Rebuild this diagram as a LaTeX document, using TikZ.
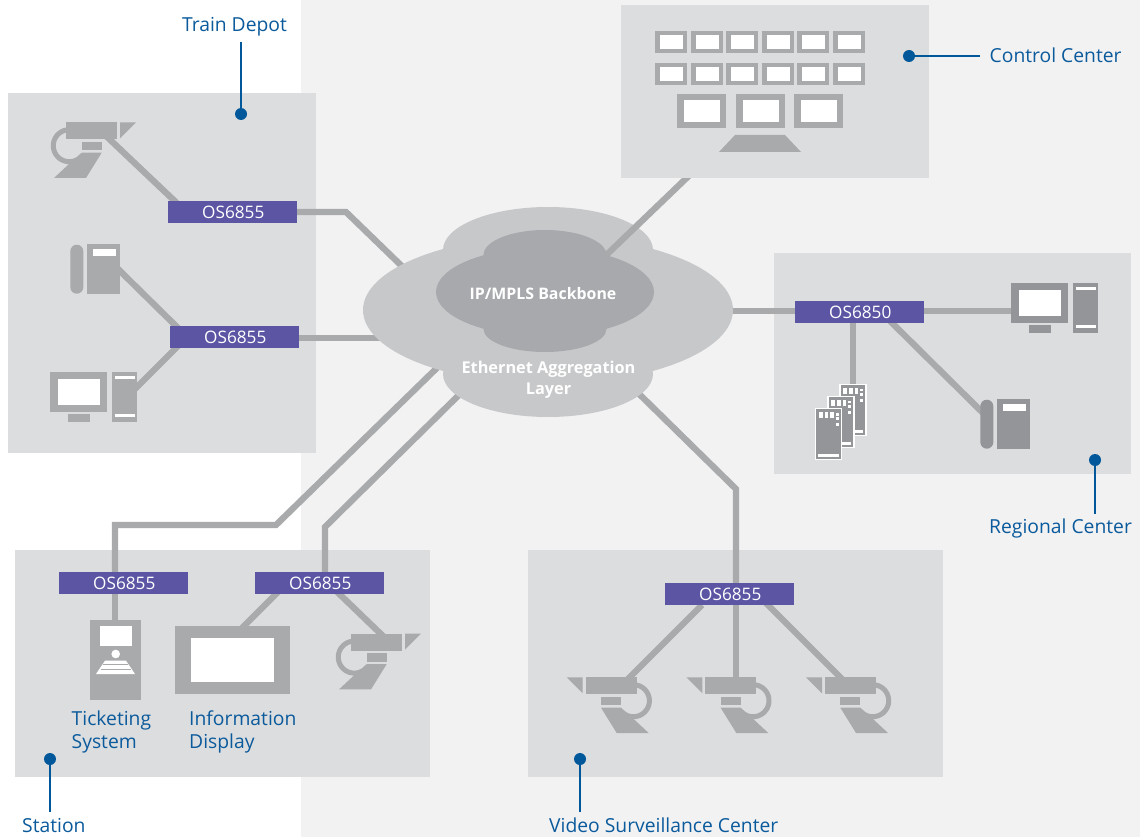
\documentclass[tikz,border=0pt]{standalone}
\usepackage{fontspec}
\setmainfont{Open Sans}
\usetikzlibrary{shapes.geometric}
\pgfdeclarelayer{back}\pgfdeclarelayer{wiresa}\pgfdeclarelayer{outer}\pgfdeclarelayer{wiresb}
\pgfsetlayers{back,wiresa,outer,wiresb,main}
\definecolor{pagegrey}{HTML}{F2F2F3}
\definecolor{panelgrey}{HTML}{DCDDDF}
\definecolor{wiregrey}{HTML}{A9AAAC}
\definecolor{darkicon}{HTML}{939598}
\definecolor{outercloud}{HTML}{C7C8CA}
\definecolor{innercloud}{HTML}{A7A9AC}
\definecolor{switchblue}{HTML}{5B55A4}
\definecolor{tagblue}{HTML}{00589A}
\definecolor{texblue}{HTML}{0A5A9C}
\tikzset{
  panel/.style={fill=panelgrey,draw=none},
  wire/.style={draw=wiregrey,line width=6.3pt,line join=miter},
  switchbox/.style={fill=switchblue,text=white,minimum width=129pt,minimum height=22pt,inner sep=0pt,font=\fontsize{17.2}{18}\selectfont,text depth=0pt,text height=12.5pt},
  cloudpart/.style={ellipse,draw=none,inner sep=0pt},
  tagline/.style={draw=tagblue,line width=2.8pt},
  tagdot/.style={circle,fill=tagblue,minimum size=12pt,inner sep=0pt},
  tagtext/.style={text=texblue,inner sep=0pt,font=\fontsize{19.3}{23.5}\selectfont},
  cloudtext/.style={text=white,inner sep=0pt,align=center,font=\fontsize{16.3}{21}\selectfont\bfseries},
}
\newcommand{\camicon}[3]{%
  \begin{scope}[shift={(#1,#2)},xscale=#3]
    \draw[wiregrey,line width=5pt] plot[domain=60:290,samples=40] ({3.3+16*cos(\x)},{23.4+16*sin(\x)});
    \fill[wiregrey] (0,0) rectangle (51,17);
    \fill[wiregrey] (54,0) -- (70,0) -- (54,16) -- cycle;
    \fill[wiregrey] (15.7,19.4) rectangle (35.7,28);
    \fill[wiregrey] (15.7,30.4) -- (35.7,30.4) -- (20,55.7) -- (-12,55.7) -- (7.3,37.7) -- cycle;
  \end{scope}}
\newcommand{\phoneicon}[3]{%
  \begin{scope}[shift={(#1,#2)}]
    \fill[#3,rounded corners=6.5pt] (0,0.7) rectangle (13,49.7);
    \fill[#3] (16.7,0) rectangle (49.7,49.7);
    \fill[white] (22.7,5) rectangle (45.7,12);
  \end{scope}}
\newcommand{\pcicon}[3]{%
  \begin{scope}[shift={(#1,#2)}]
    \fill[#3] (0,0) rectangle (57,40);
    \fill[white] (8,7) rectangle (50,33);
    \fill[#3] (18,42) rectangle (40,50);
    \fill[#3] (62,0) rectangle (87,50);
    \fill[white] (65,4) rectangle (85,7);
    \fill[white] (65,42) rectangle (85,45);
  \end{scope}}
\newcommand{\servericon}[2]{%
  \begin{scope}[shift={(#1,#2)}]
    \filldraw[fill=darkicon,draw=white,line width=1.2pt] (0,0) rectangle (26,51);
    \fill[white] (3.3,3.7) rectangle (7,9.7);
    \fill[white] (9.3,3.7) rectangle (12.7,9.7);
    \fill[white] (14.7,3.7) rectangle (18,9.7);
    \fill[white] (20,4.3) rectangle (23,7);
    \fill[white] (20,8.7) rectangle (23,11.7);
    \fill[white] (20,14.7) rectangle (23,17.7);
    \fill[white] (2.7,45.7) rectangle (23,48.7);
  \end{scope}}
\newcommand{\smallmon}[2]{%
  \fill[wiregrey] (#1,#2) rectangle ++(32,22);
  \fill[white] (#1+4.7,#2+4) rectangle ++(23,14);}
\newcommand{\bigmon}[2]{%
  \fill[wiregrey] (#1,#2) rectangle ++(49,34);
  \fill[white] (#1+7,#2+6) rectangle ++(36,22);}
\begin{document}
\begin{tikzpicture}[x=1pt,y=-1pt]
\useasboundingbox (0,0) rectangle (1140,837);
\begin{pgfonlayer}{back}
  \fill[white] (0,0) rectangle (1140,837);
  \fill[pagegrey] (301,0) rectangle (1140,837);
  \fill[panel] (8,93) rectangle (316,453);
  \fill[panel] (774,253) rectangle (1131,474);
  \fill[panel] (15,550) rectangle (430,777);
  \fill[panel] (528,550) rectangle (943,777);
\end{pgfonlayer}
% control centre panel sits over its wire
\fill[panel] (621,5) rectangle (929,178);

% clouds
\begin{pgfonlayer}{outer}
  \node[cloudpart,fill=outercloud,minimum width=370pt,minimum height=148pt] (outerMain) at (548,310) {};
  \node[cloudpart,fill=outercloud,minimum width=210pt,minimum height=86pt] (outerTop) at (548,250) {};
  \node[cloudpart,fill=outercloud,minimum width=210pt,minimum height=86pt] (outerBot) at (548,374) {};
\end{pgfonlayer}
\node[cloudpart,fill=innercloud,minimum width=218pt,minimum height=89pt] (innerMain) at (545,292) {};
\node[cloudpart,fill=innercloud,minimum width=123pt,minimum height=50pt] (innerTop) at (545,255) {};
\node[cloudpart,fill=innercloud,minimum width=123pt,minimum height=46pt] (innerBot) at (545,329) {};
\node[cloudtext,font=\fontsize{15.9}{21}\selectfont\bfseries] (backboneText) at (543,294) {IP/MPLS Backbone};
\node[cloudtext] (ethText) at (548.5,380) {Ethernet Aggregation\\Layer};

% switches
\node[switchbox] (swA) at (232.5,212) {\hspace{1.5pt}OS6855};
\node[switchbox] (swB) at (234.5,337) {\hspace{1.5pt}OS6855};
\node[switchbox] (swC) at (859.5,312) {\hspace{1.5pt}OS6850};
\node[switchbox] (swD) at (123.5,583) {\hspace{1.5pt}OS6855};
\node[switchbox] (swE) at (319.5,583) {\hspace{1.5pt}OS6855};
\node[switchbox] (swF) at (729.5,594) {\hspace{1.5pt}OS6855};

% connector ends
\coordinate (cloudNW) at (410,274);
\coordinate (swBout) at (290,338);
\coordinate (cloudW) at (390,338);
\coordinate (swCin) at (800,311);
\coordinate (swCout) at (915,311);
\coordinate (cloudE) at (725,311);
\coordinate (cloudSWa) at (442,363);
\coordinate (cloudSWb) at (466,388);
\coordinate (cloudSE) at (632,387);
\coordinate (ctrlEnd) at (697,168);
\coordinate (innerEnd) at (598,263);
\coordinate (camA) at (104,134);
\coordinate (phoneA) at (115,266);
\coordinate (pcA) at (132,392);
\coordinate (pcR) at (1020,311);
\coordinate (servers) at (853,390);
\coordinate (phoneR) at (986,416);
\coordinate (terminal) at (115,625);
\coordinate (display) at (240,630);
\coordinate (camS) at (384,637);
\coordinate (camV1) at (624,683);
\coordinate (camV2) at (736,682);
\coordinate (camV3) at (846,683);

\begin{pgfonlayer}{wiresa}
  \draw[wire] (swA.center) -- (346,212) -- (cloudNW);
  \draw[wire] (swBout) -- (cloudW);
  \draw[wire] (swCin) -- (cloudE);
  \draw[wire] (115,583) -- (115,525) -- (276,525) -- (cloudSWa);
  \draw[wire] (325,583) -- (325,527) -- (cloudSWb);
  \draw[wire] (736,594) -- (736,489) -- (cloudSE);
  \draw[wire] (camA) -- (181,207);
  \draw[wire] (phoneA) -- (182,332);
  \draw[wire] (pcA) -- (182,342);
  \draw[wire] (swCout) -- (pcR);
  \draw[wire] (853,312) -- (servers);
  \draw[wire] (881,312) -- (phoneR);
  \draw[wire] (115,583) -- (terminal);
  \draw[wire] (display) -- (285,585);
  \draw[wire] (330,585) -- (camS);
  \draw[wire] (camV1) -- (702,605);
  \draw[wire] (camV2) -- (736,594);
  \draw[wire] (camV3) -- (762,599);
\end{pgfonlayer}
\begin{pgfonlayer}{wiresb}
  \draw[wire] (ctrlEnd) -- (innerEnd);
\end{pgfonlayer}

% control centre icons
\foreach \px in {655,691,726,762,797,833}{\smallmon{\px}{31}\smallmon{\px}{63}}
\foreach \px in {677,736,794}{\bigmon{\px}{94}}
\fill[wiregrey] (719,152) -- (801,152) -- (785,135) -- (735,135) -- cycle;

% icons
\camicon{66}{122.3}{1}
\phoneicon{70.3}{244}{wiregrey}
\pcicon{50}{372}{wiregrey}
\pcicon{1011}{283}{darkicon}
\servericon{840}{384.3}
\servericon{828}{396.3}
\servericon{815.6}{408.5}
\phoneicon{980.3}{399}{darkicon}
\camicon{351}{633.7}{1}
\camicon{636.7}{677.3}{-1}
\camicon{756.3}{677.3}{-1}
\camicon{876}{677.3}{-1}
% ticketing terminal
\fill[wiregrey] (90,620) rectangle (141,700);
\fill[white] (100,626) rectangle (132,646);
\fill[white] (115.7,654) circle (4.3);
\fill[white] (105,660.7) -- (126,660.7) -- (135,674) -- (96,674) -- cycle;
\draw[wiregrey,line width=0.6pt] (103,663.8) -- (128,663.8) (100.5,668.8) -- (130.5,668.8);
% information display
\fill[wiregrey] (175,626) rectangle (290,694);
\fill[white] (191,638) rectangle (274,682);

% callouts
\node[tagdot] (dotDepot) at (241,114) {};
\node[tagtext,anchor=base] (lblDepot) at (234.5,31.5) {Train Depot};
\coordinate (endDepot) at (241,42);
\draw[tagline] (dotDepot.center) -- (endDepot);
\node[tagdot] (dotCtrl) at (909,56) {};
\node[tagtext,anchor=base west] (lblCtrl) at (989.5,62.5) {Control Center};
\coordinate (endCtrl) at (980,56);
\draw[tagline] (dotCtrl.center) -- (endCtrl);
\node[tagdot] (dotReg) at (1095,460) {};
\node[tagtext,anchor=base west] (lblReg) at (989,533.2) {Regional Center};
\coordinate (endReg) at (1095,514);
\draw[tagline] (dotReg.center) -- (endReg);
\node[tagdot] (dotSta) at (50,759) {};
\node[tagtext,anchor=base west] (lblSta) at (22,832) {Station};
\coordinate (endSta) at (50,812);
\draw[tagline] (dotSta.center) -- (endSta);
\node[tagdot] (dotVid) at (580,759) {};
\node[tagtext,anchor=base west] (lblVid) at (549,832) {Video Surveillance Center};
\coordinate (endVid) at (580,812);
\draw[tagline] (dotVid.center) -- (endVid);
\node[tagtext,align=left,anchor=north west] (lblTick) at (71.5,710.5) {Ticketing\\System};
\node[tagtext,align=left,anchor=north west] (lblInfo) at (189,710.5) {Information\\Display};
\end{tikzpicture}
\end{document}
